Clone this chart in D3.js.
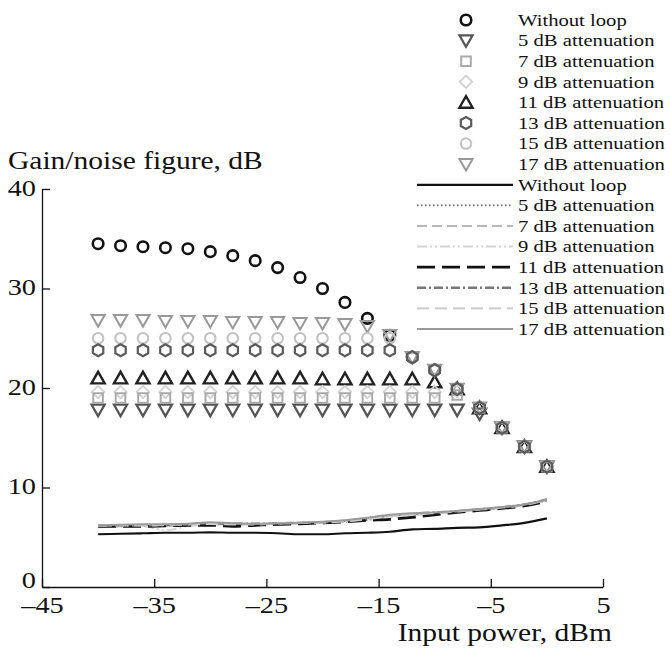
<!DOCTYPE html>
<html>
<head>
<meta charset="utf-8">
<script src="https://cdn.jsdelivr.net/npm/d3@7"></script>
<style>
	body { margin: 0; background: #fff; }
	text { font-family: "Liberation Serif", "Times New Roman", serif; fill: #111; }
</style>
</head>
<body>
<div id="chart-area"></div>
<script>
const WIDTH = 671
const HEIGHT = 650
const STRETCH = 1.18 // the original typesetting is a bit wider than Liberation Serif

// data
const inputPower = [-40, -38, -36, -34, -32, -30, -28, -26, -24, -22, -20, -18, -16, -14, -12, -10, -8, -6, -4, -2, 0]

const seriesNames = ['Without loop', '5 dB attenuation', '7 dB attenuation', '9 dB attenuation',
	'11 dB attenuation', '13 dB attenuation', '15 dB attenuation', '17 dB attenuation']

// gain, dB (markers)
const gainWithoutLoop = [34.5, 34.3, 34.2, 34.1, 34.0, 33.7, 33.3, 32.8, 32.1, 31.1, 30.0, 28.6, 27.0, 25.3, 23.1, 21.8, 19.9, 18.0, 16.0, 14.1, 12.1]
const gain5dB = [17.8, 17.8, 17.8, 17.8, 17.8, 17.8, 17.8, 17.8, 17.8, 17.8, 17.8, 17.8, 17.8, 17.8, 17.8, 17.8, 17.8, 17.4, 16.0, 14.1, 12.1]
const gain7dB = [19.0, 19.0, 19.0, 19.0, 19.0, 19.0, 19.0, 19.0, 19.0, 19.0, 19.0, 19.0, 19.0, 19.0, 19.0, 19.0, 19.3, 18.0, 16.0, 14.1, 12.1]
const gain9dB = [19.6, 19.6, 19.6, 19.6, 19.6, 19.6, 19.6, 19.6, 19.6, 19.6, 19.6, 19.6, 19.6, 19.6, 19.6, 19.6, 19.7, 18.0, 16.0, 14.1, 12.1]
const gain11dB = [21.0, 21.0, 21.0, 21.0, 21.0, 21.0, 21.0, 21.0, 21.0, 21.0, 20.9, 20.9, 20.9, 20.9, 20.9, 20.6, 19.9, 18.0, 16.0, 14.1, 12.1]
const gain13dB = [23.8, 23.8, 23.8, 23.8, 23.8, 23.8, 23.8, 23.8, 23.8, 23.8, 23.8, 23.8, 23.8, 23.8, 23.1, 21.8, 19.9, 18.0, 16.0, 14.1, 12.1]
const gain15dB = [25.0, 25.0, 25.0, 25.0, 25.0, 25.0, 25.0, 25.0, 25.0, 25.0, 25.0, 25.0, 25.0, 25.0, 23.1, 21.8, 19.9, 18.0, 16.0, 14.1, 12.1]
const gain17dB = [26.8, 26.8, 26.8, 26.7, 26.7, 26.7, 26.6, 26.6, 26.6, 26.5, 26.5, 26.4, 26.2, 25.3, 23.1, 21.8, 19.9, 18.0, 16.0, 14.1, 12.1]

// noise figure, dB (lines)
const nfWithoutLoop = [5.3, 5.35, 5.4, 5.45, 5.45, 5.5, 5.45, 5.45, 5.4, 5.3, 5.3, 5.4, 5.45, 5.55, 5.8, 5.85, 5.95, 6.0, 6.2, 6.45, 6.9]
const nf5dB = [6.2, 6.2, 6.2, 6.2, 6.25, 6.3, 6.3, 6.3, 6.35, 6.4, 6.45, 6.55, 6.75, 7.1, 7.3, 7.4, 7.55, 7.75, 7.95, 8.2, 8.7]
const nf7dB = [6.1, 6.1, 6.15, 6.2, 6.25, 6.35, 6.3, 6.3, 6.35, 6.4, 6.5, 6.6, 6.85, 7.15, 7.25, 7.45, 7.6, 7.8, 8.0, 8.25, 8.75]
const nf9dB = [6.0, 6.05, 6.1, 5.7, 6.1, 6.3, 6.25, 6.3, 6.3, 6.35, 6.45, 6.6, 6.8, 7.05, 7.2, 7.4, 7.55, 7.75, 7.95, 8.2, 8.7]
const nf11dB = [6.1, 6.1, 6.1, 6.15, 6.2, 6.2, 6.1, 6.2, 6.3, 6.35, 6.45, 6.55, 6.7, 6.8, 7.0, 7.25, 7.5, 7.7, 7.9, 8.15, 8.6]
const nf13dB = [6.15, 6.15, 6.2, 6.2, 6.3, 6.4, 6.35, 6.35, 6.4, 6.45, 6.5, 6.65, 6.9, 7.2, 7.35, 7.5, 7.6, 7.8, 8.0, 8.3, 8.8]
const nf15dB = [6.2, 6.2, 6.2, 6.25, 6.3, 6.35, 6.3, 6.3, 6.4, 6.45, 6.5, 6.6, 6.85, 7.1, 7.3, 7.45, 7.6, 7.8, 8.0, 8.25, 8.75]
const nf17dB = [6.2, 6.25, 6.3, 6.3, 6.35, 6.5, 6.4, 6.35, 6.4, 6.45, 6.55, 6.7, 6.95, 7.25, 7.4, 7.5, 7.65, 7.85, 8.05, 8.3, 8.8]

const xTicks = [-45, -35, -25, -15, -5, 5]
const yTicks = [0, 10, 20, 30, 40]

const gains = [gainWithoutLoop, gain5dB, gain7dB, gain9dB, gain11dB, gain13dB, gain15dB, gain17dB]
const noises = [nfWithoutLoop, nf5dB, nf7dB, nf9dB, nf11dB, nf13dB, nf15dB, nf17dB]

// custom marker shapes, size = half width in px
const triDown = { draw(c, s) { c.moveTo(-s, -s * 0.8); c.lineTo(s, -s * 0.8); c.lineTo(0, s * 0.95); c.closePath() } }
const triUp = { draw(c, s) { c.moveTo(-s, s * 0.8); c.lineTo(s, s * 0.8); c.lineTo(0, -s * 0.95); c.closePath() } }
const square = { draw(c, s) { c.rect(-s * 0.8, -s * 0.8, s * 1.6, s * 1.6) } }
const diamond = { draw(c, s) { c.moveTo(0, -s); c.lineTo(s, 0); c.lineTo(0, s); c.lineTo(-s, 0); c.closePath() } }
const circle = { draw(c, s) { c.moveTo(s * 0.85, 0); c.arc(0, 0, s * 0.85, 0, 2 * Math.PI) } }
const hexagon = { draw(c, s) {
	for (let i = 0; i < 6; i++) {
		const a = Math.PI / 6 + i * Math.PI / 3
		const px = s * Math.cos(a), py = s * Math.sin(a)
		if (i === 0) c.moveTo(px, py)
		else c.lineTo(px, py)
	}
	c.closePath()
} }

const markerStyles = [
	{ shape: circle, color: '#111', size: 6.2, width: 2.6 },
	{ shape: triDown, color: '#555', size: 6.6, width: 2.2 },
	{ shape: square, color: '#aaa', size: 6, width: 2 },
	{ shape: diamond, color: '#d0d0d0', size: 6.2, width: 1.8 },
	{ shape: triUp, color: '#222', size: 6.6, width: 2.4 },
	{ shape: hexagon, color: '#5a5a5a', size: 6, width: 2.2 },
	{ shape: circle, color: '#c2c2c2', size: 6.2, width: 2 },
	{ shape: triDown, color: '#999', size: 6.6, width: 2 }
]

const lineStyles = [
	{ color: '#111', width: 2.2, dash: null },
	{ color: '#666', width: 1.8, dash: '1.5,2.5' },
	{ color: '#b8b8b8', width: 2, dash: '10,5' },
	{ color: '#d4d4d4', width: 2, dash: '10,3,2,3,2,3' },
	{ color: '#111', width: 2.8, dash: '18,7' },
	{ color: '#777', width: 2.4, dash: '9,3,2,3' },
	{ color: '#cfcfcf', width: 2.4, dash: '12,6' },
	{ color: '#9a9a9a', width: 2, dash: null }
]

// widen text to the measured width of the original lettering
function stretch(sel) {
	sel.each(function() {
		const w = this.getComputedTextLength()
		d3.select(this)
			.attr('textLength', w * STRETCH)
			.attr('lengthAdjust', 'spacingAndGlyphs')
	})
}

const svg = d3.select('#chart-area').append('svg')
	.attr('width', WIDTH)
	.attr('height', HEIGHT)

const x = d3.scaleLinear()
	.domain([-45, 5])
	.range([42, 603])

const y = d3.scaleLinear()
	.domain([0, 40])
	.range([587, 189])

const fmt = d => d < 0 ? '\u2013' + Math.abs(d) : String(d)

// axes (ticks point inward)
const xAxisGroup = svg.append('g')
	.attr('transform', `translate(0, ${y(0)})`)
	.call(d3.axisBottom(x).tickValues(xTicks).tickFormat(fmt)
		.tickSizeInner(-8).tickSizeOuter(0).tickPadding(9))

const yAxisGroup = svg.append('g')
	.attr('transform', `translate(${x(-45)}, 0)`)
	.call(d3.axisLeft(y).tickValues(yTicks).tickFormat(fmt)
		.tickSizeInner(-8).tickSizeOuter(0).tickPadding(6))

svg.selectAll('.domain, .tick line')
	.attr('stroke', '#111')
	.attr('stroke-width', 1.3)
svg.selectAll('.tick text')
	.attr('font-family', '"Liberation Serif", serif')
	.attr('font-size', '24px')
	.attr('fill', '#111')
	.call(stretch)
// the zero sits a little higher so it clears the -45 below it
yAxisGroup.selectAll('.tick text')
	.attr('dy', d => d === 0 ? '0em' : '0.27em')

// axis labels
svg.append('text')
	.attr('x', 8)
	.attr('y', 169)
	.attr('font-size', '25px')
	.text('Gain/noise figure, dB')
	.call(stretch)

svg.append('text')
	.attr('x', 612)
	.attr('y', 641)
	.attr('text-anchor', 'end')
	.attr('font-size', '25px')
	.text('Input power, dBm')
	.call(stretch)

// noise figure lines
const line = d3.line()
	.x((d, i) => x(inputPower[i]))
	.y(d => y(d))
	.curve(d3.curveMonotoneX)

noises.forEach((nf, k) => {
	const st = lineStyles[k]
	svg.append('path')
		.datum(nf)
		.attr('fill', 'none')
		.attr('stroke', st.color)
		.attr('stroke-width', st.width)
		.attr('stroke-dasharray', st.dash)
		.attr('d', line)
})

// gain markers; the mid-gray hexagons go last so merged points look gray
const order = [0, 1, 4, 7, 6, 3, 2, 5]
order.forEach(k => {
	const st = markerStyles[k]
	const sym = d3.symbol().type(st.shape).size(st.size)
	svg.append('g')
		.selectAll('path')
		.data(gains[k])
		.enter().append('path')
			.attr('transform', (d, i) => `translate(${x(inputPower[i])}, ${y(d)})`)
			.attr('d', sym)
			.attr('fill', 'none')
			.attr('stroke', st.color)
			.attr('stroke-width', st.width)
})

// legend
const legend = svg.append('g')
const rowY = i => 20 + 20.6 * i

seriesNames.forEach((name, k) => {
	const st = markerStyles[k]
	legend.append('path')
		.attr('transform', `translate(466, ${rowY(k)})`)
		.attr('d', d3.symbol().type(st.shape).size(st.size))
		.attr('fill', 'none')
		.attr('stroke', st.color)
		.attr('stroke-width', st.width)
	legend.append('text')
		.attr('x', 518)
		.attr('y', rowY(k))
		.attr('dy', '0.33em')
		.attr('font-size', '17.5px')
		.text(name)
		.call(stretch)
})

seriesNames.forEach((name, k) => {
	const st = lineStyles[k]
	const yy = rowY(k + 8)
	legend.append('line')
		.attr('x1', 417)
		.attr('x2', 513)
		.attr('y1', yy)
		.attr('y2', yy)
		.attr('stroke', st.color)
		.attr('stroke-width', st.width)
		.attr('stroke-dasharray', st.dash)
	legend.append('text')
		.attr('x', 518)
		.attr('y', yy)
		.attr('dy', '0.33em')
		.attr('font-size', '17.5px')
		.text(name)
		.call(stretch)
})
</script>
</body>
</html>
